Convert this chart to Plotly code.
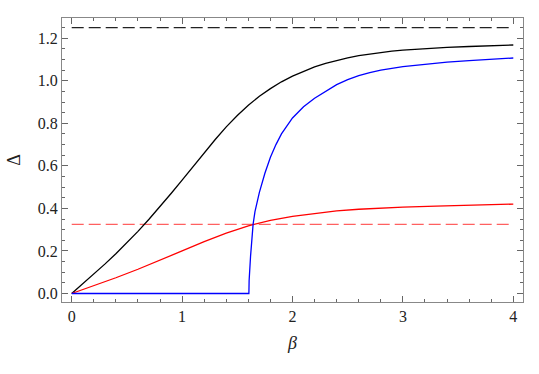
import plotly.graph_objects as go

# valores
beta_negro = [0, 0.1, 0.2, 0.3, 0.4, 0.5, 0.6, 0.7, 0.8, 0.9, 1.0, 1.1, 1.2, 1.3, 1.4, 1.5, 1.6, 1.7, 1.8, 1.9,
              2.0, 2.1, 2.2, 2.3, 2.4, 2.5, 2.6, 2.7, 2.8, 2.9, 3.0, 3.2, 3.4, 3.6, 3.8, 4.0]
delta_negro = [0, 0.045, 0.091, 0.138, 0.187, 0.238, 0.292, 0.349, 0.408, 0.47, 0.533, 0.597, 0.661, 0.724,
               0.783, 0.837, 0.885, 0.927, 0.963, 0.995, 1.022, 1.045, 1.065, 1.082, 1.096, 1.108, 1.118, 1.126,
               1.133, 1.139, 1.144, 1.151, 1.157, 1.161, 1.165, 1.168]

beta_rojo = [0, 0.2, 0.4, 0.6, 0.8, 1.0, 1.2, 1.4, 1.6, 1.8, 2.0, 2.2, 2.4, 2.6, 2.8, 3.0, 3.3, 3.6, 4.0]
delta_rojo = [0, 0.036, 0.074, 0.114, 0.156, 0.2, 0.244, 0.284, 0.318, 0.344, 0.363, 0.377, 0.388, 0.396, 0.402,
              0.406, 0.411, 0.415, 0.420]

beta_azul = [0, 1.605, 1.607, 1.61, 1.615, 1.62, 1.63, 1.643, 1.66, 1.68, 1.7, 1.75, 1.8, 1.85, 1.9, 2.0, 2.1,
             2.2, 2.3, 2.4, 2.5, 2.6, 2.7, 2.8, 3.0, 3.2, 3.4, 3.6, 3.8, 4.0]
delta_azul = [0, 0, 0.06, 0.1, 0.14, 0.175, 0.24, 0.325, 0.385, 0.435, 0.475, 0.565, 0.64, 0.70, 0.75, 0.825,
              0.878, 0.918, 0.952, 0.982, 1.005, 1.024, 1.038, 1.05, 1.066, 1.078, 1.088, 1.095, 1.101, 1.107]

beta_lim = [0, 4]
nivel_negro = 1.25
nivel_rojo = 0.325

fuente = "Liberation Serif, Times New Roman, serif"

fig = go.Figure()
fig.add_trace(go.Scatter(x=beta_lim, y=[nivel_negro, nivel_negro], mode="lines",
                         line=dict(color="#222222", width=1.3, dash="12px,5px")))
fig.add_trace(go.Scatter(x=beta_lim, y=[nivel_rojo, nivel_rojo], mode="lines",
                         line=dict(color="#ff6060", width=1.3, dash="12px,5px")))
fig.add_trace(go.Scatter(x=beta_negro, y=delta_negro, mode="lines",
                         line=dict(color="black", width=1.3)))
fig.add_trace(go.Scatter(x=beta_rojo, y=delta_rojo, mode="lines",
                         line=dict(color="red", width=1.3)))
fig.add_trace(go.Scatter(x=beta_azul, y=delta_azul, mode="lines",
                         line=dict(color="blue", width=1.3)))

eje = dict(showline=True, linecolor="#888888", linewidth=1.3, mirror="allticks", automargin=False,
           ticks="inside", ticklen=6, tickcolor="#666666", showgrid=False, zeroline=False,
           tickfont=dict(family=fuente, size=16, color="#222222"))

fig.update_layout(
    width=539, height=374,
    margin=dict(l=62, r=16, t=18, b=72),
    plot_bgcolor="white", paper_bgcolor="white",
    showlegend=False,
    xaxis=dict(eje, range=[-0.088, 4.088], tick0=0, dtick=1,
               minor=dict(dtick=0.2, ticklen=3, ticks="inside", tickcolor="#666666"),
               title=dict(text="<i>β</i>", font=dict(family=fuente, size=18, color="#222222"), standoff=12)),
    yaxis=dict(eje, range=[-0.04, 1.295], tick0=0, dtick=0.2, tickformat=".1f",
               minor=dict(dtick=0.05, ticklen=3, ticks="inside", tickcolor="#666666"),
               title=dict(text="Δ", font=dict(family=fuente, size=18, color="#222222"), standoff=12)),
)

# quitamos el margen por defecto del body para que el grafico quede en 0,0
fig.write_html("out.html", config={"displayModeBar": False},
               post_script="document.body.style.margin='0';")
